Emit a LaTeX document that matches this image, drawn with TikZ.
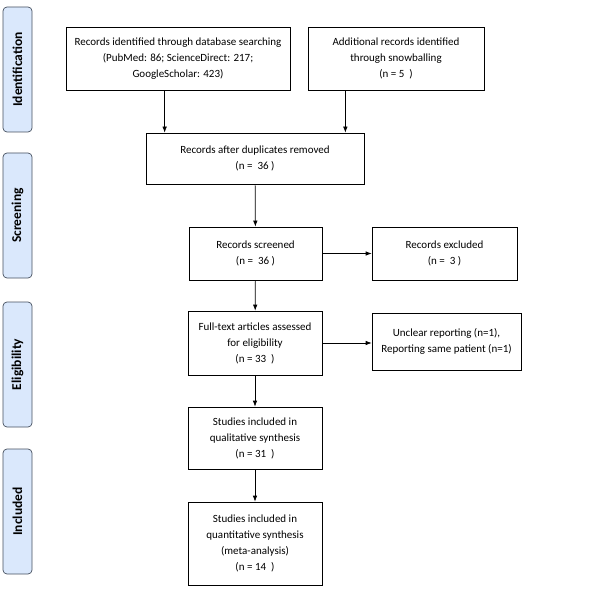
\documentclass[tikz,border=0pt]{standalone}
\usepackage{fontspec}
\setmainfont{Carlito}
\usetikzlibrary{arrows.meta}
\definecolor{phasefill}{RGB}{218,232,252}
\definecolor{phaseline}{RGB}{70,80,95}
\begin{document}
\begin{tikzpicture}[x=1pt,y=-1pt,
  box/.style={draw,line width=0.7pt,align=center,inner sep=0pt,font=\fontsize{11}{16}\selectfont},
  phase/.style={draw=phaseline,fill=phasefill,line width=0.7pt,rounded corners=4pt,rotate=90,inner sep=0pt,
    minimum width=125pt,minimum height=29pt,font=\fontsize{13.5}{15}\selectfont\bfseries},
  arr/.style={-{Latex[length=6pt,width=4.5pt]},line width=0.7pt}]
\useasboundingbox (0,0) rectangle (612,588);
\foreach \y/\t/\n in {69.5/Identification/pid,215.5/Screening/psc,364.5/Eligibility/pel,511.5/Included/pin}
{   \node[phase] (\n) at (17.5,\y) {\t};
}
\node[box,minimum width=224pt,minimum height=63pt] (db) at (178,58.5)
  {Records identified through database searching\\(PubMed: 86; ScienceDirect: 217;\\GoogleScholar: 423)};
\node[box,minimum width=176pt,minimum height=63pt] (snow) at (396,58.5)
  {Additional records identified\\through snowballing\\(n = 5\ \ )};
\node[box,minimum width=218pt,minimum height=51pt] (dup) at (255,158.5)
  {Records after duplicates removed\\(n = \ 36 )};
\node[box,minimum width=133pt,minimum height=53pt] (scr) at (255.5,253.5)
  {Records screened\\(n = \ 36 )};
\node[box,minimum width=145pt,minimum height=53pt] (exc) at (444.5,253.5)
  {Records excluded\\(n = \ 3 )};
\node[box,minimum width=134pt,minimum height=64pt] (full) at (255,343)
  {Full-text articles assessed\\for eligibility\\(n = 33\ \ )};
\node[box,minimum width=149pt,minimum height=57pt] (uncl) at (446.5,341.5)
  {Unclear reporting (n=1),\\Reporting same patient (n=1)};
\node[box,minimum width=134pt,minimum height=62pt] (qual) at (255,438)
  {Studies included in\\qualitative synthesis\\(n = 31\ \ )};
\node[box,minimum width=134pt,minimum height=83pt] (quan) at (255,543.5)
  {Studies included in\\quantitative synthesis\\(meta-analysis)\\(n = 14\ \ )};
\coordinate (dupl) at ([xshift=19pt]dup.north west);
\coordinate (dupr) at ([xshift=-19pt]dup.north east);
\draw[arr] (db.south -| dupl) -- (dupl);
\draw[arr] (snow.south -| dupr) -- (dupr);
\draw[arr] (dup) -- (scr);
\draw[arr] (scr) -- (exc);
\draw[arr] (scr) -- (full);
\draw[arr] (full.east) -- (full.east -| uncl.west);
\draw[arr] (full) -- (qual);
\draw[arr] (qual) -- (quan);
\end{tikzpicture}
\end{document}
